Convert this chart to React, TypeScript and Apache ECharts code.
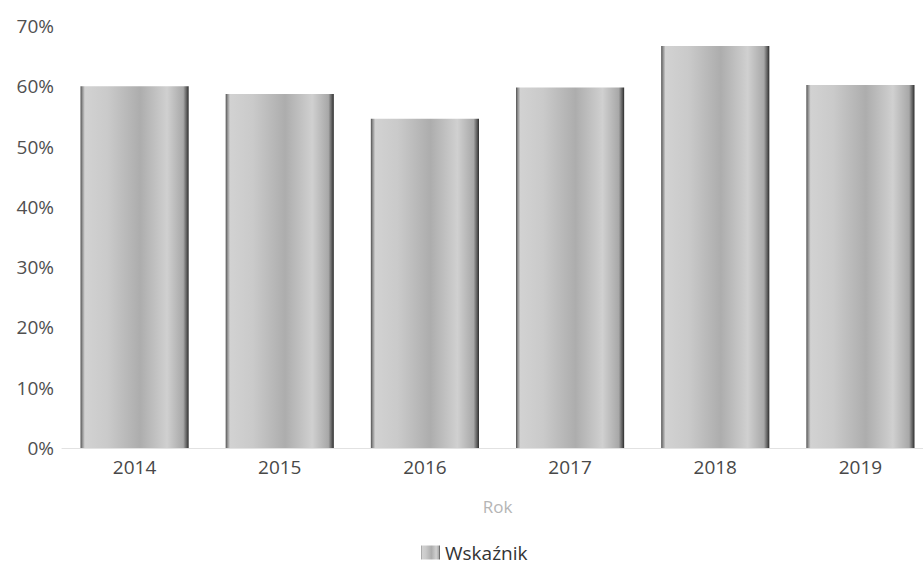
import React, { useEffect, useRef } from "react";
import * as echarts from "echarts";

const years = ["2014", "2015", "2016", "2017", "2018", "2019"];
const wskaznik = [60.0, 58.7, 54.6, 59.8, 66.7, 60.2];
const seriesName = "Wskaźnik";
const axisName = "Rok";

const barGradient = () =>
  new echarts.graphic.LinearGradient(0, 0, 1, 0, [
    { offset: 0, color: "#505050" },
    { offset: 0.015, color: "#8a8a8a" },
    { offset: 0.04, color: "#d2d2d2" },
    { offset: 0.25, color: "#cacaca" },
    { offset: 0.55, color: "#adadad" },
    { offset: 0.8, color: "#d0d0d0" },
    { offset: 0.95, color: "#a8a8a8" },
    { offset: 0.985, color: "#555555" },
    { offset: 1, color: "#2a2a2a" },
  ]);

export default function App() {
  const ref = useRef<HTMLDivElement>(null);
  useEffect(() => {
    if (!ref.current) return;
    const chart = echarts.init(ref.current, null, { renderer: "svg" });
    chart.setOption({
      animation: false,
      backgroundColor: "#ffffff",
      textStyle: { fontFamily: "Open Sans" },
      grid: {
        left: 62,
        right: -10,
        top: 26,
        bottom: 116,
        containLabel: false,
        outerBoundsMode: "none",
      },
      legend: {
        data: [seriesName],
        left: 416,
        top: 538,
        icon: "rect",
        itemWidth: 19,
        itemHeight: 14,
        itemGap: 4,
        textStyle: { color: "#333", fontSize: 19, fontFamily: "Open Sans" },
      },
      xAxis: {
        type: "category",
        data: years,
        name: axisName,
        nameLocation: "middle",
        nameGap: 50,
        nameTextStyle: { color: "#b5b5b5", fontSize: 17 },
        axisLine: { show: true, lineStyle: { color: "#e2e2e2", width: 1 } },
        axisTick: { show: false },
        axisLabel: { color: "#484848", fontSize: 19, margin: 9 },
      },
      yAxis: {
        type: "value",
        min: 0,
        max: 70,
        interval: 10,
        axisLine: { show: false },
        axisTick: { show: false },
        splitLine: { show: false },
        axisLabel: { formatter: "{value}%", color: "#505050", fontSize: 19, margin: 8 },
      },
      series: [
        {
          name: seriesName,
          type: "bar",
          data: wskaznik,
          barWidth: "74.5%",
          itemStyle: { color: barGradient() },
        },
      ],
    });
    return () => chart.dispose();
  }, []);
  return (
    <div style={{ position: "fixed", left: 0, top: 0 }}>
      <div ref={ref} style={{ width: 923, height: 564 }} />
    </div>
  );
}
